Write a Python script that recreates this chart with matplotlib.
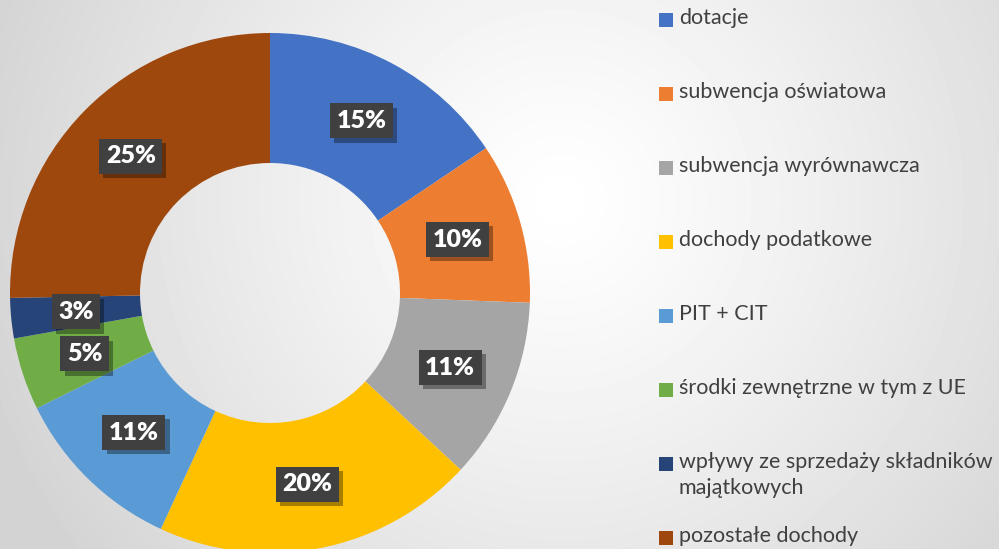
import numpy as np
import matplotlib
matplotlib.use("Agg")
import matplotlib.pyplot as plt
from matplotlib.patches import Rectangle
from matplotlib import patheffects as pe

# =====================================
# Data
# =====================================
categories = ["dotacje", "subwencja oświatowa", "subwencja wyrównawcza",
              "dochody podatkowe", "PIT + CIT", "środki zewnętrzne w tym z UE",
              "wpływy ze sprzedaży składników\nmajątkowych", "pozostałe dochody"]
shares = [15.6, 10.0, 11.3, 20.0, 10.8, 4.5, 2.5, 25.3]
share_labels = ["15%", "10%", "11%", "20%", "11%", "5%", "3%", "25%"]
colors = ["#4472C4", "#ED7D31", "#A5A5A5", "#FFC000",
          "#5B9BD5", "#70AD47", "#264478", "#9E480E"]

plt.rcParams["font.family"] = ["Lato", "DejaVu Sans"]
plt.rcParams["hatch.color"] = "#545454"
plt.rcParams["hatch.linewidth"] = 1.2

W, H = 999, 549
fig = plt.figure(figsize=(W / 100, H / 100), dpi=100)

# =====================================
# Background (radial gradient)
# =====================================
bg = fig.add_axes([0, 0, 1, 1])
yy, xx = np.mgrid[0:H, 0:W]
dist = np.sqrt((xx - 560) ** 2 + (yy - 200) ** 2) / 600
shade = 1.0 - 0.17 * np.clip(dist, 0, 1) ** 1.2
bg.imshow(shade, cmap="gray", vmin=0, vmax=1, aspect="auto",
          extent=[0, W, H, 0], interpolation="bilinear")
bg.set_xlim(0, W)
bg.set_ylim(H, 0)
bg.axis("off")

# =====================================
# Doughnut
# =====================================
cx, cy, r = 270, 293, 260
ax = fig.add_axes([(cx - r) / W, (H - cy - r) / H, 2 * r / W, 2 * r / H])
wedges, _ = ax.pie(shares, colors=colors, startangle=90, counterclock=False,
                   radius=1.0, wedgeprops=dict(width=0.5, linewidth=0))
ax.set_xlim(-1, 1)
ax.set_ylim(-1, 1)
ax.set_aspect("equal")

for w, lab in zip(wedges, share_labels):
    ang = np.deg2rad((w.theta1 + w.theta2) / 2)
    t = ax.text(0.75 * np.cos(ang), 0.75 * np.sin(ang), lab,
                ha="center", va="center", color="white", fontsize=18,
                fontweight="heavy",
                bbox=dict(boxstyle="square,pad=0.26", facecolor="#404040",
                          edgecolor="none", hatch="."))
    t.get_bbox_patch().set_path_effects([
        pe.SimplePatchShadow(offset=(3, -3), shadow_rgbFace="black", alpha=0.35),
        pe.Normal()])

# =====================================
# Legend (manual, Excel-style spacing)
# =====================================
for i, (lab, col) in enumerate(zip(categories, colors)):
    yc = 20 + 74 * i
    fig.add_artist(Rectangle((659 / W, 1 - (yc + 7) / H), 14 / W, 14 / H,
                             transform=fig.transFigure, facecolor=col,
                             edgecolor="none"))
    fig.text(679 / W, 1 - (yc - 12) / H, lab, ha="left", va="top",
             fontsize=15.5, color="#404040", linespacing=1.35)

fig.savefig("out.png", dpi=100)
